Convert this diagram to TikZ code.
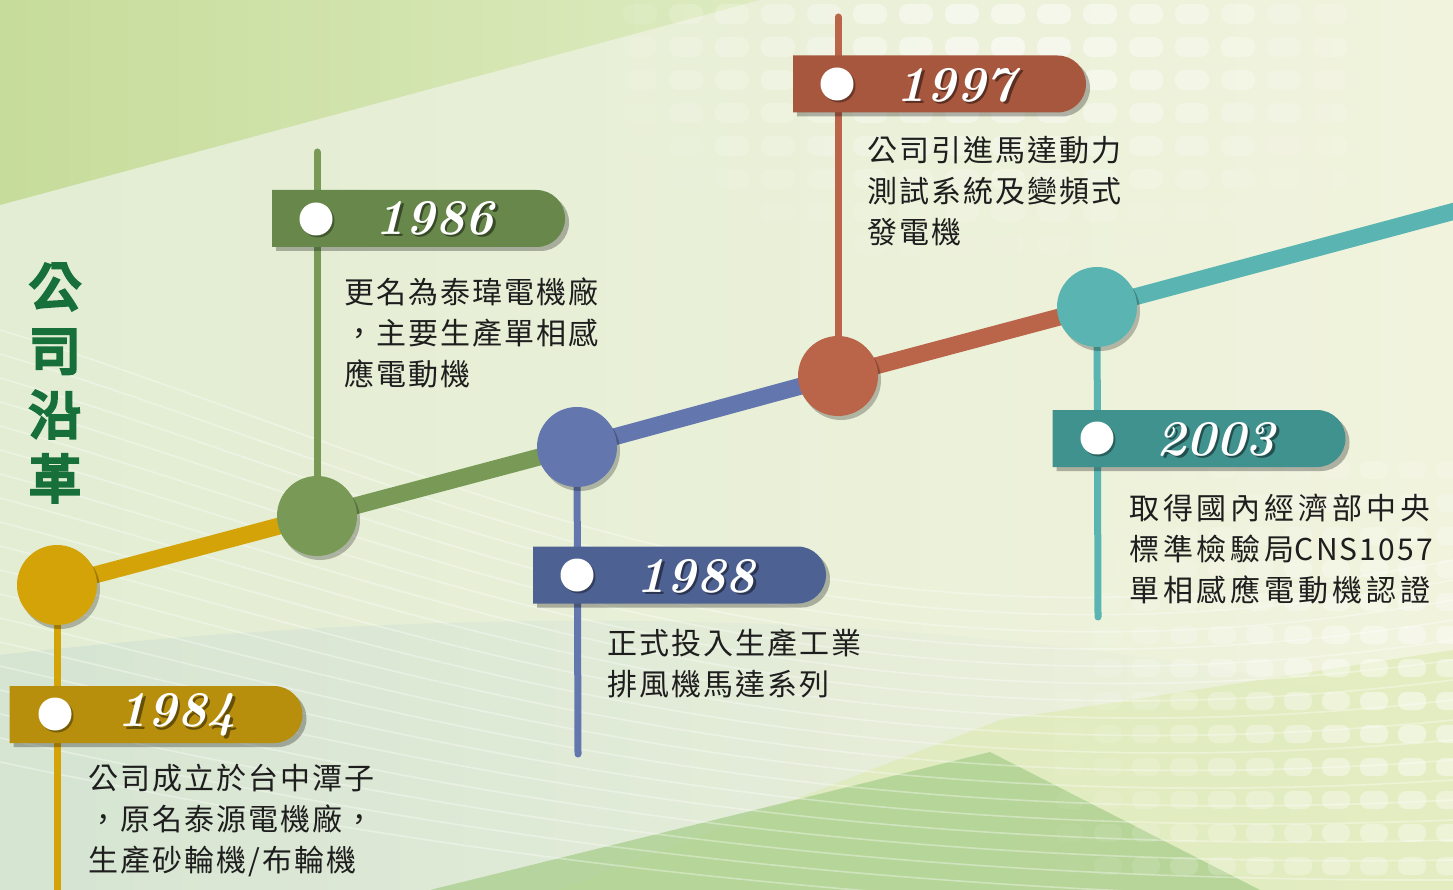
\documentclass[tikz,border=0pt]{standalone}
\usepackage{fontspec}
\newfontfamily\cjkmid[LetterSpace=7]{Noto Sans CJK TC}
\newfontfamily\cjkwide[LetterSpace=13]{Noto Sans CJK TC}
\newfontfamily\cjktitle[AutoFakeBold=6]{Noto Sans CJK TC}
\usetikzlibrary{shapes.misc,shadows}
\definecolor{cY}{HTML}{D4A307}\definecolor{bY}{HTML}{B88F0C}
\definecolor{cG}{HTML}{789A56}\definecolor{bG}{HTML}{67884A}
\definecolor{cB}{HTML}{6377AE}\definecolor{bB}{HTML}{4E6193}
\definecolor{cR}{HTML}{BA654A}\definecolor{bR}{HTML}{A7573E}
\definecolor{cT}{HTML}{5AB5B2}\definecolor{bT}{HTML}{40928F}
\definecolor{titlegreen}{HTML}{17703A}
\definecolor{txt}{HTML}{1E1E1E}
\definecolor{bgL}{HTML}{E2EDD3}\definecolor{bgM}{HTML}{EEF4E2}\definecolor{bgR}{HTML}{F1F3DD}
\definecolor{tlA}{HTML}{C6DC9A}\definecolor{tlB}{HTML}{DDEBC0}
\definecolor{wedge}{HTML}{A9CE8C}\definecolor{ywedge}{HTML}{DCEAB0}
\definecolor{band}{HTML}{CBDFD2}
\tikzset{
  tdot/.style={circle, minimum size=80pt, inner sep=0pt,
    drop shadow={shadow xshift=3pt, shadow yshift=-4pt, fill=black, opacity=0.25}},
  whitedot/.style={circle, fill=white, minimum size=33pt, inner sep=0pt,
    drop shadow={shadow xshift=2pt, shadow yshift=-2pt, fill=black, opacity=0.35}},
  banner/.style={rounded rectangle, rounded rectangle west arc=none,
    minimum width=293pt, minimum height=57pt, inner sep=0pt,
    drop shadow={shadow xshift=4pt, shadow yshift=-4pt, fill=black, opacity=0.28}},
  yeartxt/.style={font=\fontsize{50}{50}\selectfont\bfseries\itshape, text=white, inner sep=0pt},
  yearshadow/.style={font=\fontsize{50}{50}\selectfont\bfseries\itshape, text=black, opacity=0.45, inner sep=0pt},
  bodytext/.style={font=\cjkmid\fontsize{30}{41}\selectfont, text=txt, align=left, anchor=west, inner sep=0pt},
  mainline/.style={line width=17pt},
  stemline/.style={line width=7pt, line cap=round},
}
\begin{document}
\begin{tikzpicture}[x=1pt,y=-1pt]
\useasboundingbox (0,0) rectangle (1453,890);
\clip (0,0) rectangle (1453,890);
% ---------- background ----------
\shade[left color=bgL, middle color=bgM, right color=bgR] (0,0) rectangle (1453,890);
\shade[left color=tlA, right color=tlB] (0,0) -- (760,0) -- (0,205) -- cycle;
\shade[left color=band, right color=bgR, opacity=0.55] (0,655) .. controls (350,615) and (700,610) .. (1000,640) .. controls (1200,660) and (1350,690) .. (1453,720) -- (1453,890) -- (0,890) -- cycle;
\fill[ywedge, opacity=0.6] (560,890) -- (1000,720) -- (1453,650) -- (1453,890) -- cycle;
\fill[wedge, opacity=0.75] (430,890) -- (990,752) -- (1260,890) -- cycle;
\foreach \k in {0,...,18} {
  \draw[white, opacity=0.35, line width=1.6pt]
    (0,{330+24*\k}) .. controls (400,{450+22*\k}) and (800,{690+12*\k}) .. (1453,{560+20*\k});
}
\foreach \i in {0,...,15} {
  \foreach \j in {0,...,12} {
    \pgfmathsetmacro\xx{640+46*\i}
    \pgfmathsetmacro\yy{14+33*\j}
    \pgfmathsetmacro\op{max(0,0.55*(1-sqrt(((\xx-1010)/100)^2+(2*(\yy-40)/100)^2)/4.6))}
    \fill[white, opacity=\op, rounded corners=9pt] ({\xx-17},{\yy-10}) rectangle ({\xx+17},{\yy+10});
  }
}
\foreach \i in {0,...,10} {
  \foreach \j in {0,...,12} {
    \pgfmathsetmacro\xx{1070+38*\i}
    \pgfmathsetmacro\yy{470+33*\j}
    \pgfmathsetmacro\op{max(0,0.5*(1-sqrt(((\xx-1400)/100)^2+((\yy-720)/100)^2)/3.8))}
    \fill[white, opacity=\op, rounded corners=8pt] ({\xx-14},{\yy-9}) rectangle ({\xx+14},{\yy+9});
  }
}
% ---------- coordinates ----------
\coordinate (c84) at (57,585);
\coordinate (c86) at (317,516);
\coordinate (c88) at (577,447);
\coordinate (c97) at (838,376);
\coordinate (c03) at (1097,307);
\coordinate (cend) at (1470,207);
\coordinate (e84) at (57,900);
\coordinate (e86) at (317,152);
\coordinate (e88) at (578,754);
\coordinate (e97) at (838,17);
\coordinate (e03) at (1098,617);
% ---------- stems ----------
\draw[stemline, cY] (c84) -- (e84);
\draw[stemline, cG] (c86) -- (e86);
\draw[stemline, cB] (c88) -- (e88);
\draw[stemline, cR] (c97) -- (e97);
\draw[stemline, cT] (c03) -- (e03);
% ---------- main line ----------
\draw[mainline, cY] (c84) -- (c86);
\draw[mainline, cG] (c86) -- (c88);
\draw[mainline, cB] (c88) -- (c97);
\draw[mainline, cR] (c97) -- (c03);
\draw[mainline, cT] (c03) -- (cend);
% ---------- circles ----------
\node[tdot, fill=cY] (n84) at (c84) {};
\node[tdot, fill=cG] (n86) at (c86) {};
\node[tdot, fill=cB] (n88) at (c88) {};
\node[tdot, fill=cR] (n97) at (c97) {};
\node[tdot, fill=cT] (n03) at (c03) {};
% ---------- banners ----------
\node[banner, fill=bY] (b84) at (156,714.5) {};
\node[banner, fill=bG] (b86) at (418.5,218.5) {};
\node[banner, fill=bB] (b88) at (679.5,575) {};
\node[banner, fill=bR] (b97) at (939.5,84) {};
\node[banner, fill=bT] (b03) at (1199,438.5) {};
\node[whitedot] (h84) at (55,714) {};
\node[whitedot] (h86) at (316,219) {};
\node[whitedot] (h88) at (577,575) {};
\node[whitedot] (h97) at (837,84) {};
\node[whitedot] (h03) at (1097,438) {};
% ---------- years ----------
\node[yearshadow] (s84) at (179.5,717.5) {1984};
\node[yeartxt] (y84) at (177,715) {1984};
\node[yearshadow] (s86) at (437.5,220.5) {1986};
\node[yeartxt] (y86) at (435,218) {1986};
\node[yearshadow] (s88) at (698.5,578.5) {1988};
\node[yeartxt] (y88) at (696,576) {1988};
\node[yearshadow] (s97) at (958.5,87.5) {1997};
\node[yeartxt] (y97) at (956,85) {1997};
\node[yearshadow] (s03) at (1218.5,441.5) {2003};
\node[yeartxt] (y03) at (1216,439) {2003};
% ---------- body texts ----------
\node[bodytext] (t84) at (88,820) {公司成立於台中潭子\\，原名泰源電機廠，\\生產砂輪機/布輪機};
\node[bodytext] (t86) at (344,333) {更名為泰瑋電機廠\\，主要生產單相感\\應電動機};
\node[bodytext] (t88) at (607,663.5) {正式投入生產工業\\排風機馬達系列};
\node[bodytext] (t97) at (867,191) {公司引進馬達動力\\測試系統及變頻式\\發電機};
\node[bodytext, font=\cjkwide\fontsize{30}{41}\selectfont] (t03) at (1129,549) {取得國內經濟部中央\\標準檢驗局{\cjkmid CNS1057}\\單相感應電動機認證};
% ---------- title ----------
\node[font=\cjktitle\bfseries\fontsize{52}{64}\selectfont, text=titlegreen, align=center, inner sep=0pt] (title) at (55,383) {公\\司\\沿\\革};
\end{tikzpicture}
\end{document}
